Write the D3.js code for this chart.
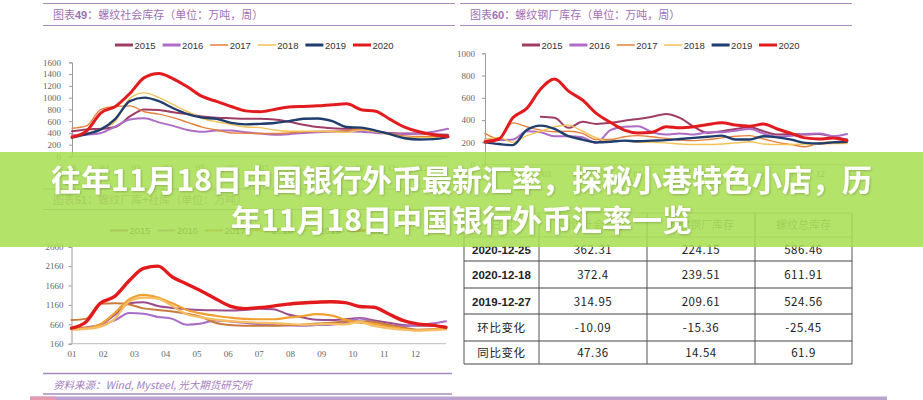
<!DOCTYPE html>
<html><head><meta charset="utf-8">
<script src="https://cdn.jsdelivr.net/npm/d3@7"></script>
<style>body{margin:0;background:#fff;}svg{display:block;}</style>
</head><body>
<svg id="c" width="923" height="400"></svg>
<script>
// ---------- data ----------
const years = ["2015","2016","2017","2018","2019","2020"];
const months = ["01","02","03","04","05","06","07","08","09","10","11","12"];
const weeks = [0,2,4,6,8,10,12,14,16,18,20,22,24,26,28,30,32,34,36,38,40,42,44,46,48,50,52];

// 图表49 螺纹社会库存
const social2015 = [430,460,470,500,680,800,790,750,720,680,660,650,640,640,630,590,540,500,480,470,460,420,400,390,390,380,370];
const social2016 = [360,370,400,510,630,650,580,520,450,420,440,440,410,390,370,380,400,410,420,430,420,400,390,380,390,420,470];
const social2017 = [480,520,800,850,860,760,720,660,580,500,450,400,395,390,390,400,420,430,430,440,470,430,390,350,340,340,350];
const social2018 = [350,390,470,600,990,1080,1000,880,760,650,590,545,500,490,450,430,430,425,420,410,450,420,370,330,320,320,350];
const social2019 = [320,380,460,640,940,1000,940,820,720,660,640,570,545,555,570,600,640,645,600,500,490,440,380,310,290,295,330];
const social2020 = [330,430,740,850,1070,1340,1410,1320,1180,1020,935,850,775,760,800,840,850,860,880,895,795,770,630,500,420,370,340];

// 图表60 螺纹钢厂库存
const plant2015 = [null,null,null,null,430,420,330,385,365,375,395,410,430,455,420,340,285,300,320,335,300,270,275,270,275,250,225];
const plant2016 = [225,220,225,300,290,255,255,245,195,310,340,345,290,270,280,270,290,290,305,320,280,250,260,275,280,255,275];
const plant2017 = [280,230,375,340,310,295,300,280,225,225,250,260,250,235,220,215,225,240,255,260,230,200,180,160,195,205,210];
const plant2018 = [225,245,200,260,300,340,355,300,240,210,215,200,200,195,185,180,180,185,195,205,185,180,180,185,185,190,190];
const plant2019 = [200,185,175,310,350,320,255,225,200,205,215,210,215,220,230,240,250,260,225,225,255,245,225,195,190,200,205];
const plant2020 = [205,230,420,505,680,770,660,580,460,380,310,285,290,340,330,340,360,375,355,345,365,320,280,240,230,240,215];

// 图表51 螺纹厂库+社库
const total2015 = [550,580,650,900,1200,1230,1130,1080,1050,1030,1020,1015,1030,1060,1050,920,840,780,770,790,820,760,700,640,620,620,600];
const total2016 = [540,560,640,760,950,930,850,800,650,680,760,730,700,660,640,630,620,640,650,700,810,720,640,610,640,680,740];
const total2017 = [770,800,1190,1200,1170,1070,1030,990,930,850,700,640,620,620,620,640,650,680,700,730,740,720,650,580,520,530,580];
const total2018 = [540,560,660,950,1300,1420,1350,1200,1030,940,880,830,800,790,790,830,870,920,890,780,700,670,600,540,500,520,560];
const total2019 = [520,540,600,800,1250,1350,1320,1130,920,840,780,740,720,700,690,670,650,660,670,660,720,620,560,520,500,510,530];
const total2020 = [560,720,1200,1380,1780,2100,2160,1880,1700,1520,1320,1130,1065,1090,1130,1180,1210,1230,1240,1220,1120,1100,930,760,670,640,580];

const yTicksSocial = [0,200,400,600,800,1000,1200,1400,1600];
const yTicksPlant = [0,200,400,600,800,1000];
const yTicksTotal = [160,660,1160,1660,2160,2660];

const tableHeader = ["日期","螺纹社会库存","螺纹钢厂库存","螺纹总库存"];
const tableRowLabels = ["2020-12-25","2020-12-18","2019-12-27","环比变化","同比变化"];
const tableSocial = ["362.31","372.4","314.95","-10.09","47.36"];
const tablePlant = ["224.15","239.51","209.61","-15.36","14.54"];
const tableTotal = ["586.46","611.91","524.56","-25.45","61.9"];

const titleLine1 = "往年11月18日中国银行外币最新汇率，探秘小巷特色小店，历";
const titleLine2 = "年11月18日中国银行外币汇率一览";

// ---------- drawing ----------
const svg = d3.select("#c");
const purple = "#a88cbc";
const titleColor = "#a070b4";
const cjk = "'Noto Sans CJK SC', sans-serif";

const topColors = ["#9e3d66","#ad6cc6","#e5803a","#f2c255","#1f3d6d","#e21b1f"];
const topWidths = [2,2,1.4,1.4,2.4,3];
const topLegendW = [3,3,1.5,1.5,3,3];
const botColors = ["#9a4d8c","#a86dc6","#c97b3d","#f0a030","#f6bd62","#e31a1c"];
const botWidths = [2,2,2,2.2,2.2,3.4];

function frameLine(x1,x2,y,w){
  svg.append("line").attr("x1",x1).attr("x2",x2).attr("y1",y).attr("y2",y)
    .attr("stroke",purple).attr("stroke-width",w||1.2);
}
function title(x,y,pre,num,rest){
  const t = svg.append("text").attr("x",x).attr("y",y).attr("font-family",cjk)
    .attr("font-size",11).attr("fill",titleColor);
  t.append("tspan").text(pre);
  t.append("tspan").attr("font-weight","bold").attr("font-family","'Liberation Sans',sans-serif").text(num);
  t.append("tspan").text(rest);
}

function drawChart(cfg){
  const g = svg.append("g");
  const x = d3.scaleLinear().domain([0,52]).range(cfg.xRange);
  const y = d3.scaleLinear().domain([cfg.yTicks[0], cfg.yTicks[cfg.yTicks.length-1]]).range(cfg.yRange);
  const mx = d3.scalePoint().domain(months).range(cfg.monthRange);

  const ya = g.append("g").attr("transform",`translate(${cfg.xRange[0]},0)`)
    .call(d3.axisLeft(y).tickValues(cfg.yTicks).tickSize(3).tickPadding(cfg.yPad).tickFormat(d3.format("d")));
  ya.selectAll("path,line").attr("stroke","#9a9a9a");
  ya.selectAll("text").attr("font-family","'Liberation Serif',serif").attr("font-size",9).attr("fill","#666");

  g.append("line").attr("x1",x.range()[0]).attr("x2",x.range()[1])
    .attr("y1",y.range()[0]).attr("y2",y.range()[0]).attr("stroke","#bbb");
  const xa = g.append("g").attr("transform",`translate(0,${y.range()[0]})`)
    .call(d3.axisBottom(mx).tickSize(0).tickPadding(cfg.xPad));
  xa.select(".domain").remove();
  xa.selectAll("text").attr("font-family","'Liberation Serif',serif").attr("font-size",9).attr("fill","#666");

  const line = d3.line().defined(d=>d[1]!=null).x(d=>x(d[0])).y(d=>y(d[1])).curve(d3.curveMonotoneX);
  cfg.series.forEach((s,i)=>{
    g.append("path").datum(weeks.map((w,j)=>[w,s[j]]))
      .attr("d",line).attr("fill","none").attr("stroke",cfg.colors[i])
      .attr("stroke-width",cfg.widths[i]).attr("stroke-linejoin","round").attr("stroke-linecap","round");
  });

  const lg = g.append("g");
  years.forEach((yr,i)=>{
    const lx = cfg.legendX + i*cfg.legendStep;
    lg.append("line").attr("x1",lx).attr("x2",lx+18).attr("y1",cfg.legendY-3.5).attr("y2",cfg.legendY-3.5)
      .attr("stroke",cfg.colors[i]).attr("stroke-width",cfg.legendW[i]);
    lg.append("text").attr("x",lx+19.5).attr("y",cfg.legendY).text(yr)
      .attr("font-family","'Liberation Sans',Arial,sans-serif").attr("font-size",9.5).attr("fill","#333");
  });
}

frameLine(43,455,3.5); frameLine(43,455,25.5);
frameLine(460,852,3.5); frameLine(460,852,25.5);
title(53,19,"图表","49","：螺纹社会库存（单位：万吨，周）");
title(470,19,"图表","60","：螺纹钢厂库存（单位：万吨，周）");
frameLine(43,455,189); frameLine(43,455,209.5);
title(53,204,"图表","51","：螺纹厂库+社库（单位：万吨）");

drawChart({xRange:[72,448],monthRange:[72,423],yTicks:yTicksSocial,yRange:[156.5,62.3],yPad:8,xPad:8,
  series:[social2015,social2016,social2017,social2018,social2019,social2020],
  colors:topColors,widths:topWidths,legendW:topLegendW,legendX:115,legendStep:47.6,legendY:48.5});
drawChart({xRange:[485,847],monthRange:[485,820],yTicks:yTicksPlant,yRange:[164.6,53.3],yPad:7,xPad:6,
  series:[plant2015,plant2016,plant2017,plant2018,plant2019,plant2020],
  colors:topColors,widths:topWidths,legendW:topLegendW,legendX:522,legendStep:47.4,legendY:48.5});
drawChart({xRange:[71.5,446],monthRange:[71.5,415],yTicks:yTicksTotal,yRange:[343.7,246.7],yPad:5,xPad:7,
  series:[total2015,total2016,total2017,total2018,total2019,total2020],
  colors:botColors,widths:botWidths,legendW:[2,2,2,2,2,3],legendX:110,legendStep:47.5,legendY:234});

frameLine(43,452,373.5,1.5); frameLine(43,452,394,1.5);
svg.append("text").attr("x",53).attr("y",389).attr("font-family",cjk).attr("font-size",10.5)
  .attr("font-style","italic").attr("fill","#a57cc0").text("资料来源：Wind, Mysteel, 光大期货研究所");

const colX = [464,539,647,755,852];
const rowY = [213,237,261,288,314,341,364];
const tg = svg.append("g");
rowY.forEach((ry,i)=>tg.append("line").attr("x1",colX[0]).attr("x2",colX[4]).attr("y1",ry).attr("y2",ry)
  .attr("stroke", i<2 ? "#999" : "#444").attr("stroke-width",1));
colX.forEach(cx=>tg.append("line").attr("x1",cx).attr("x2",cx).attr("y1",rowY[0]).attr("y2",rowY[6])
  .attr("stroke","#555").attr("stroke-width",1));
tableHeader.forEach((h,i)=>tg.append("text").attr("x",(colX[i]+colX[i+1])/2).attr("y",(rowY[0]+rowY[1])/2+4)
  .attr("text-anchor","middle").attr("font-family",cjk).attr("font-size",11).attr("fill","#777").text(h));
const cols = [tableRowLabels,tableSocial,tablePlant,tableTotal];
cols.forEach((col,ci)=>col.forEach((v,ri)=>{
  const isDate = ci===0 && ri<3;
  tg.append("text").attr("x",(colX[ci]+colX[ci+1])/2).attr("y",(rowY[ri+1]+rowY[ri+2])/2+4.5)
    .attr("text-anchor","middle").attr("font-family", isDate ? "'Liberation Sans',Arial,sans-serif" : cjk)
    .attr("font-size", 11.5)
    .attr("font-weight", isDate ? "bold" : "normal")
    .attr("letter-spacing", isDate ? 0 : 0.6)
    .attr("fill","#222").text(v);
}));
frameLine(460,887,398,1.5);

svg.append("rect").attr("x",30).attr("y",396.5).attr("width",857).attr("height",3.5).attr("fill","#bca2d0");
svg.append("rect").attr("x",30).attr("y",396.5).attr("width",26).attr("height",3.5).attr("fill","#e59ab0");

svg.append("rect").attr("x",0).attr("y",152).attr("width",923).attr("height",95)
  .attr("fill","rgb(168,222,82)").attr("opacity",0.86);
const defs = svg.append("defs");
const f = defs.append("filter").attr("id","sh").attr("x","-5%").attr("y","-20%").attr("width","110%").attr("height","140%");
f.append("feDropShadow").attr("dx",0.8).attr("dy",0.8).attr("stdDeviation",0.8).attr("flood-color","#000").attr("flood-opacity",0.25);
[[titleLine1,191],[titleLine2,231]].forEach(([t,yy])=>{
  svg.append("text").attr("x",461.5).attr("y",yy).attr("text-anchor","middle")
    .attr("font-family",cjk).attr("font-weight","bold").attr("font-size",30)
    .attr("fill","#fff").attr("filter","url(#sh)").text(t);
});
</script>
</body></html>
